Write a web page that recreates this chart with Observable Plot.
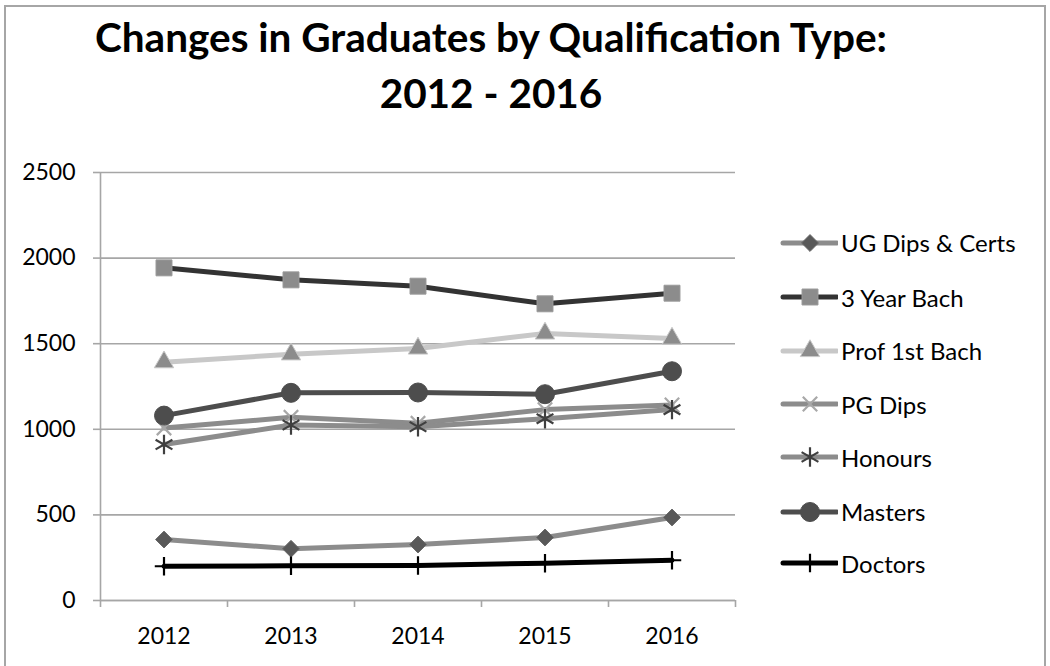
<!DOCTYPE html>
<html>
<head>
<meta charset="utf-8">
<script src="https://cdn.jsdelivr.net/npm/d3@7"></script>
<script src="https://cdn.jsdelivr.net/npm/@observablehq/plot@0.6"></script>
<style>
  html, body { margin: 0; padding: 0; background: #fff; }
  #wrap { position: relative; width: 1050px; height: 666px; overflow: hidden; font-family: Lato, "Open Sans", sans-serif; }
  #frame { position: absolute; left: 4px; top: 5px; width: 1042px; height: 700px; border: 2px solid #a6a6a6; box-sizing: border-box; }
  #title { position: absolute; left: 0; top: 9px; width: 982px; text-align: center; font-weight: 700; font-size: 40.5px; line-height: 56px; color: #000; }
  #chart { position: absolute; left: 0; top: 0; }
  #legend { position: absolute; left: 780px; top: 0; }
  .lrow { position: absolute; left: 0; height: 30px; display: flex; align-items: center; white-space: nowrap; font-size: 24px; color: #000; }
  .lrow svg { margin-right: 3px; }
</style>
</head>
<body>
<div id="wrap">
  <div id="frame"></div>
  <div id="title">Changes in Graduates by Qualification Type:<br>2012 - 2016</div>
  <div id="chart"></div>
  <div id="legend"></div>
</div>
<script>
// ---- data ----
const years = ["2012", "2013", "2014", "2015", "2016"];
const seriesNames = ["UG Dips & Certs", "3 Year Bach", "Prof 1st Bach", "PG Dips", "Honours", "Masters", "Doctors"];
const ugDipsCerts = [356, 302, 327, 368, 485];
const threeYearBach = [1943, 1873, 1836, 1733, 1795];
const prof1stBach = [1392, 1438, 1472, 1560, 1530];
const pgDips = [1008, 1070, 1035, 1115, 1142];
const honours = [911, 1025, 1015, 1062, 1115];
const masters = [1080, 1213, 1215, 1205, 1339];
const doctors = [200, 203, 205, 218, 235];
const yTicks = [0, 500, 1000, 1500, 2000, 2500];

const seriesValues = [ugDipsCerts, threeYearBach, prof1stBach, pgDips, honours, masters, doctors];

// ---- styles ----
const styles = [
  {line: "#8c8c8c", symbol: "diamond2", fill: "#595959", stroke: "#6a6a6a", r: 7.6},
  {line: "#333333", symbol: "square", fill: "#8c8c8c", stroke: "#9a9a9a", r: 9},
  {line: "#c8c8c8", symbol: "triangle", fill: "#8c8c8c", stroke: "#c8c8c8", r: 7.2},
  {line: "#8c8c8c", symbol: "times", fill: "none", stroke: "#a8a8a8", r: 6.6},
  {line: "#8c8c8c", symbol: "asterisk", fill: "none", stroke: "#3f3f3f", r: 9.2},
  {line: "#4d4d4d", symbol: "circle", fill: "#4d4d4d", stroke: "#4d4d4d", r: 9.5},
  {line: "#000000", symbol: "plus", fill: "none", stroke: "#000000", r: 6}
];

const rows = seriesNames.flatMap((s, i) =>
  years.map((y, j) => ({series: s, year: y, xi: j + 0.5, value: seriesValues[i][j]}))
);

const marks = [
  Plot.gridY(yTicks, {stroke: "#a6a6a6", strokeOpacity: 1, strokeWidth: 1.6}),
  Plot.ruleX([0], {stroke: "#a6a6a6", strokeWidth: 1.6}),
  Plot.axisY(yTicks, {tickSize: 7, tickPadding: 18, stroke: "#a6a6a6", strokeWidth: 1.6, fill: "#000", fontSize: 23, label: null, tickFormat: d => String(d)}),
  Plot.axisX(d3.range(years.length + 1), {tickSize: 7, stroke: "#a6a6a6", strokeWidth: 1.6, tickFormat: () => "", label: null}),
  Plot.axisX(years.map((y, i) => i + 0.5), {tickSize: 0, tickPadding: 27, fill: "#000", fontSize: 23, label: null, tickFormat: d => years[Math.floor(d)]}),
  Plot.ruleY([0], {stroke: "#a6a6a6", strokeWidth: 1.6})
];

seriesNames.forEach((s, i) => {
  const st = styles[i];
  const data = rows.filter(d => d.series === s);
  marks.push(Plot.line(data, {x: "xi", y: "value", stroke: st.line, strokeWidth: 5, curve: "linear"}));
  const filled = st.fill !== "none";
  marks.push(Plot.dot(data, {
    x: "xi", y: "value", symbol: () => st.symbol, r: st.r,
    fill: filled ? st.fill : "none",
    stroke: st.stroke,
    strokeWidth: filled ? 1 : 2.2
  }));
});

const chart = Plot.plot({
  width: 1050,
  height: 666,
  marginLeft: 100,
  marginRight: 315,
  marginTop: 172,
  marginBottom: 66,
  style: {fontFamily: "Lato, 'Open Sans', sans-serif", fontSize: "23px", color: "#000", background: "transparent"},
  x: {domain: [0, years.length], axis: null, label: null},
  y: {domain: [0, 2500], axis: null, label: null},
  symbol: {type: "identity"},
  marks
});
document.getElementById("chart").appendChild(chart);

// ---- legend ----
const legend = d3.select("#legend");
const symbolTypes = {
  diamond2: d3.symbolDiamond2, square: d3.symbolSquare, triangle: d3.symbolTriangle,
  times: d3.symbolTimes, asterisk: d3.symbolAsterisk, circle: d3.symbolCircle, plus: d3.symbolPlus
};
const legendTop = [242.7, 297.3, 350.7, 404.3, 457.3, 511.7, 563.3];
seriesNames.forEach((s, i) => {
  const st = styles[i];
  const row = legend.append("div").attr("class", "lrow").style("top", (legendTop[i] - 15) + "px");
  const svg = row.append("svg").attr("width", 58).attr("height", 30);
  svg.append("line").attr("x1", 3).attr("x2", 57).attr("y1", 15).attr("y2", 15)
    .attr("stroke", st.line).attr("stroke-width", 5).attr("stroke-linecap", "round");
  const filled = st.fill !== "none";
  svg.append("path")
    .attr("transform", "translate(30,15)")
    .attr("d", d3.symbol(symbolTypes[st.symbol], Math.PI * st.r * st.r)())
    .attr("fill", filled ? st.fill : "none")
    .attr("stroke", st.stroke)
    .attr("stroke-width", filled ? 1 : 2.2);
  row.append("span").text(s);
});
</script>
</body>
</html>
